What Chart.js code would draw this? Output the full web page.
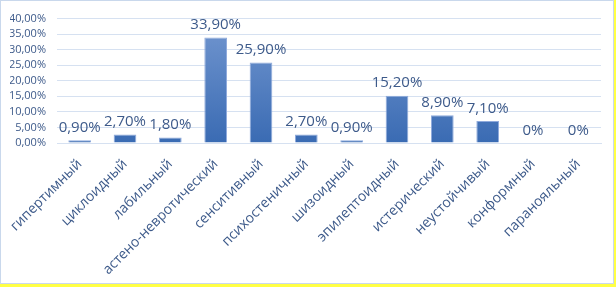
<!DOCTYPE html>
<html>
<head>
<meta charset="utf-8">
<script src="https://cdn.jsdelivr.net/npm/chart.js@4"></script>
<style>
  html, body { margin: 0; padding: 0; background: #fff; }
  #frame { width: 614px; height: 284px; border-right: 2px solid #FFFF44; border-bottom: 3px solid #FFFF44; }
  #box { width: 612px; height: 282px; border: 1px solid #C9D8EC; }
</style>
</head>
<body>
<div id="frame"><div id="box"><canvas id="myChart" width="612" height="282"></canvas></div></div>
<script>
const categories = ['гипертимный', 'циклоидный', 'лабильный', 'астено-невротический', 'сенситивный',
  'психостеничный', 'шизоидный', 'эпилептоидный', 'истерический', 'неустойчивый', 'конформный', 'паранояльный'];
const values = [0.9, 2.7, 1.8, 33.9, 25.9, 2.7, 0.9, 15.2, 8.9, 7.1, 0, 0];
const valueLabels = ['0,90%', '2,70%', '1,80%', '33,90%', '25,90%', '2,70%', '0,90%', '15,20%', '8,90%', '7,10%', '0%', '0%'];

const textColor = '#3D5A8A';

// draws the value above each bar
const barLabels = {
  id: 'barLabels',
  afterDatasetsDraw(chart) {
    const ctx = chart.ctx;
    const meta = chart.getDatasetMeta(0);
    ctx.save();
    ctx.font = '15px "Open Sans"';
    ctx.fillStyle = textColor;
    ctx.textAlign = 'center';
    ctx.textBaseline = 'bottom';
    meta.data.forEach((bar, i) => {
      ctx.fillText(valueLabels[i], bar.x, bar.y - 5);
    });
    ctx.restore();
  }
};

function barFill(context) {
  const area = context.chart.chartArea;
  if (!area) return '#4472C4';
  const g = context.chart.ctx.createLinearGradient(0, area.top, 0, area.bottom);
  g.addColorStop(0, '#7397D0');
  g.addColorStop(1, '#3A6BB3');
  return g;
}

function initChart(target) {
  return new Chart(target, {
    type: 'bar',
    data: {
      labels: categories,
      datasets: [{
        data: values,
        backgroundColor: barFill,
        borderColor: '#8FAADC',
        borderWidth: 1,
        categoryPercentage: 1,
        barPercentage: 0.5
      }]
    },
    options: {
      responsive: false,
      animation: false,
      layout: { padding: { top: 8, right: 12, left: 9, bottom: 6 } },
      plugins: { legend: { display: false }, tooltip: { enabled: false } },
      scales: {
        y: {
          min: 0,
          max: 40,
          border: { display: false },
          grid: { color: '#D6E1F1', drawTicks: false, lineWidth: 1 },
          afterFit(scale) { scale.width = 47; },
          ticks: {
            stepSize: 5,
            autoSkip: false,
            padding: 11,
            color: textColor,
            font: { family: 'Open Sans', size: 11 },
            callback: (v) => v.toFixed(2).replace('.', ',') + '%'
          }
        },
        x: {
          border: { color: '#D6E1F1' },
          grid: { display: false },
          afterFit(scale) { scale.paddingLeft = 0; scale.paddingRight = 0; },
          ticks: {
            minRotation: 45,
            maxRotation: 45,
            autoSkip: false,
            padding: 5,
            color: textColor,
            font: { family: 'Open Sans', size: 14 }
          }
        }
      }
    },
    plugins: [barLabels]
  });
}

document.addEventListener('DOMContentLoaded', () => initChart(document.querySelector('#myChart')));
</script>
</body>
</html>
